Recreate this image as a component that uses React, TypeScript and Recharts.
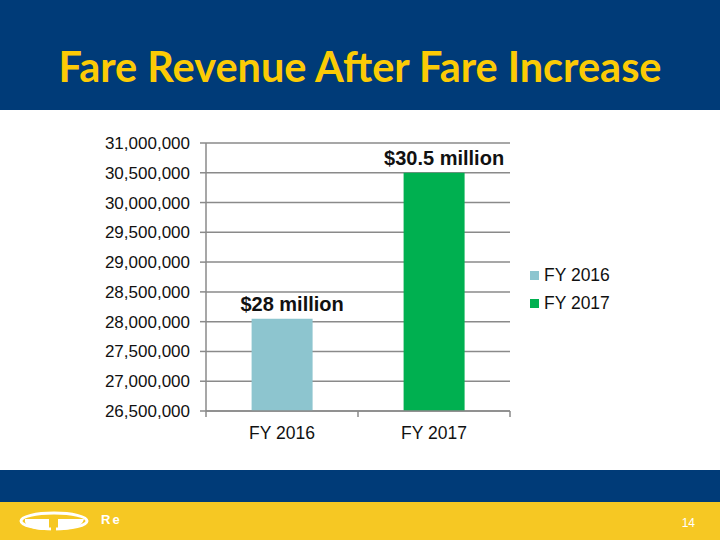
import { Bar, BarChart, CartesianGrid, Cell, LabelList, Legend, XAxis, YAxis } from 'recharts';

const categories = ['FY 2016', 'FY 2017'];
const revenue = [28050000, 30500000];
const valueLabels = ['$28 million', '$30.5 million'];
const yTicks = [26500000, 27000000, 27500000, 28000000, 28500000, 29000000, 29500000, 30000000, 30500000, 31000000];
const colors = ['#8DC5CF', '#00B050'];

const chartData = categories.map((name, i) => ({
  name,
  revenue: revenue[i],
  label: valueLabels[i],
}));

const FONT = '"Liberation Sans", Arial, sans-serif';
const GRID = '#8a8a8a';

// category ticks: text in the middle, tick mark on the band boundary
const CategoryTick = (props: any) => {
  const { x, y, payload } = props;
  const half = payload?.offset ?? 0;
  return (
    <g>
      <line x1={x + half} x2={x + half} y1={y} y2={y + 6} stroke={GRID} strokeWidth={1.5} />
      {payload.index === 0 && (
        <line x1={x - half} x2={x - half} y1={y} y2={y + 6} stroke={GRID} strokeWidth={1.5} />
      )}
      <text x={x} y={y + 22} textAnchor="middle" dominantBaseline="central" fontSize={17.5} fill="#111" fontFamily={FONT}>
        {payload.value}
      </text>
    </g>
  );
};

const ValueLabel = (props: any) => {
  const { x, y, width, value } = props;
  return (
    <text
      x={x + width / 2 + 10}
      y={y - 15}
      textAnchor="middle"
      dominantBaseline="central"
      fontSize={20}
      fontWeight="bold"
      fill="#111"
      fontFamily={FONT}
    >
      {value}
    </text>
  );
};

const SlideLegend = () => (
  <div style={{ width: 100, fontFamily: FONT, fontSize: 17.5, color: '#111' }}>
    {categories.map((c, i) => (
      <div key={c} style={{ height: 28, display: 'flex', alignItems: 'center' }}>
        <span style={{ width: 9, height: 9, background: colors[i], marginRight: 5, display: 'inline-block' }} />
        {c}
      </div>
    ))}
  </div>
);

export default function App() {
  return (
    <div style={{ position: 'absolute', left: 0, top: 0, width: 720, height: 540, background: '#fff', overflow: 'hidden' }}>
      <svg width={720} height={540} style={{ position: 'absolute', left: 0, top: 0 }}>
        <rect x={0} y={0} width={720} height={110} fill="#003B78" />
        <text
          x={360}
          y={82}
          textAnchor="middle"
          fontSize={42}
          fontWeight="bold"
          fill="#FCCB05"
          fontFamily="Lato, 'Open Sans', sans-serif"
          textLength={603}
          lengthAdjust="spacingAndGlyphs"
        >
          Fare Revenue After Fare Increase
        </text>
        <rect x={0} y={470} width={720} height={32} fill="#003B78" />
        <rect x={0} y={502} width={720} height={38} fill="#F6C823" />
        {/* logo */}
        <ellipse cx={54} cy={521} rx={33} ry={8} stroke="#fff" strokeWidth={3} fill="none" />
        <path d="M25,519 L49,519 L49,530 Q29,531 25,522 Z" fill="#fff" />
        <path d="M58,519 L84,519 Q81,530 58,530 Z" fill="#fff" />
        <rect x={51} y={517} width={5} height={14} fill="#F6C823" />
        <text x={101} y={524} fontSize={13} fontWeight="bold" fill="#fff" fontFamily={FONT} letterSpacing={2}>
          Re
        </text>
        <text x={695} y={527} textAnchor="end" fontSize={12} fill="#fff" fontFamily={FONT}>
          14
        </text>
      </svg>
      <div style={{ position: 'absolute', left: 0, top: 110 }}>
        <BarChart
          width={720}
          height={351}
          data={chartData}
          margin={{ top: 33, right: 110, left: 0, bottom: 10 }}
          barCategoryGap="30%"
        >
          <CartesianGrid vertical={false} stroke={GRID} strokeWidth={1.5} />
          <XAxis
            dataKey="name"
            height={40}
            tickSize={0}
            tickMargin={0}
            tickLine={false}
            stroke={GRID}
            strokeWidth={1.5}
            tick={<CategoryTick />}
          />
          <YAxis
            width={206}
            domain={[26500000, 31000000]}
            ticks={yTicks}
            interval={0}
            tickSize={6}
            tickMargin={10}
            stroke={GRID}
            strokeWidth={1.5}
            tick={{ fontSize: 17, fill: '#111', fontFamily: FONT }}
            tickFormatter={(v: number) => v.toLocaleString('en-US')}
          />
          <Legend
            layout="vertical"
            align="right"
            verticalAlign="top"
            wrapperStyle={{ top: 151, left: 530, width: 100 }}
            content={<SlideLegend />}
          />
          <Bar dataKey="revenue" isAnimationActive={false}>
            {chartData.map((d, i) => (
              <Cell key={d.name} fill={colors[i]} />
            ))}
            <LabelList dataKey="label" content={<ValueLabel />} />
          </Bar>
        </BarChart>
      </div>
    </div>
  );
}
